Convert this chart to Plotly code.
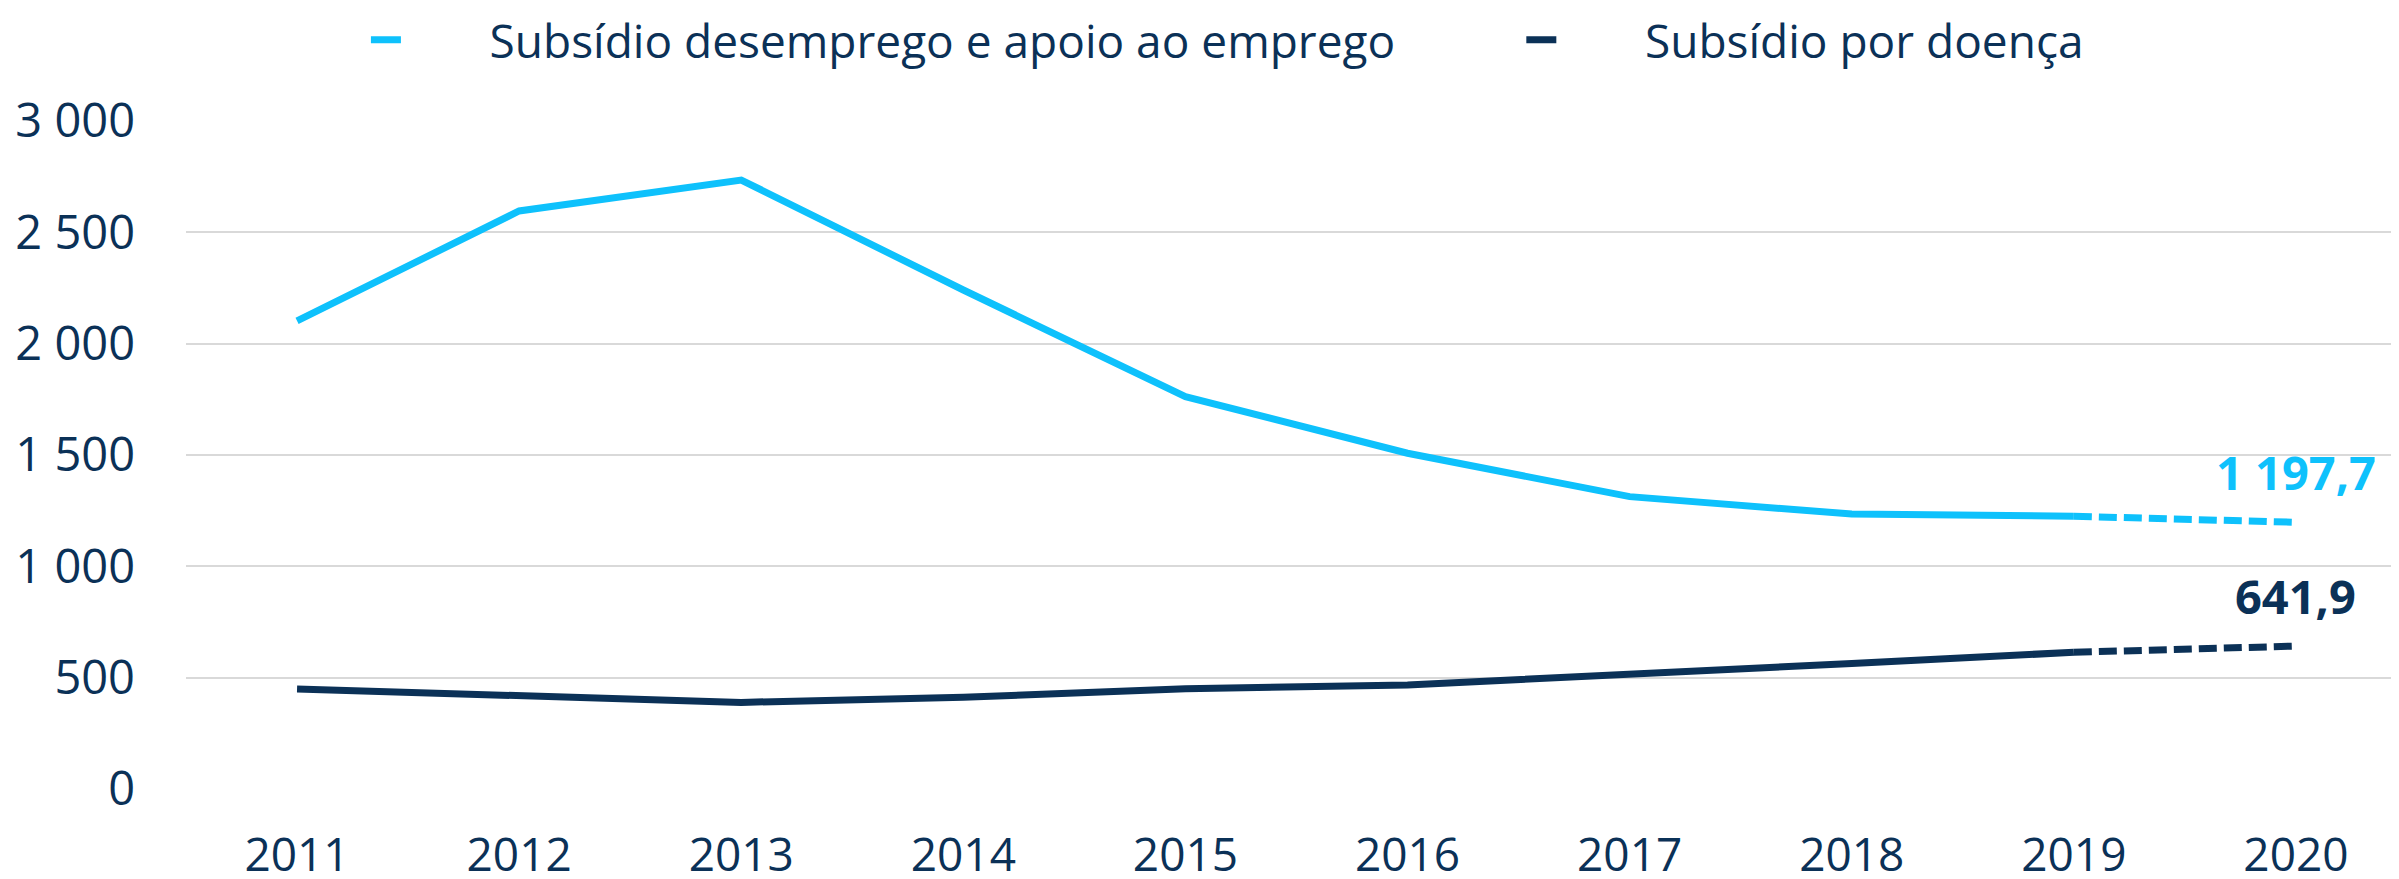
import plotly.graph_objects as go

years = [2011, 2012, 2013, 2014, 2015, 2016, 2017, 2018, 2019, 2020]
desemprego = [2102, 2596, 2735, 2241, 1762, 1508, 1313, 1235, 1225, 1197.7]
doenca = [449, 419, 389, 412, 450, 467, 512, 564, 614, 641.9]
y_ticks = [0, 500, 1000, 1500, 2000, 2500, 3000]

name_a = "Subsídio desemprego e apoio ao emprego"
name_b = "Subsídio por doença"

LIGHT = "#0EC1FC"
DARK = "#0B3157"
FONT = "Open Sans"
PAD = "\u00a0" * 7

def fmt(v):
    return f"{v:,.1f}".replace(",", " ").replace(".", ",")

fig = go.Figure()
fig.add_trace(go.Scatter(x=years[:9], y=desemprego[:9], mode="lines",
                         line=dict(color=LIGHT, width=7),
                         name=PAD + name_a, legend="legend"))
fig.add_trace(go.Scatter(x=years[:9], y=doenca[:9], mode="lines",
                         line=dict(color=DARK, width=7),
                         name=PAD + name_b, legend="legend2"))
fig.add_trace(go.Scatter(x=years[8:], y=desemprego[8:], mode="lines",
                         line=dict(color=LIGHT, width=7, dash="18px,7px"),
                         showlegend=False))
fig.add_trace(go.Scatter(x=years[8:], y=doenca[8:], mode="lines",
                         line=dict(color=DARK, width=7, dash="18px,7px"),
                         showlegend=False))

for series, col in ((desemprego, LIGHT), (doenca, DARK)):
    fig.add_annotation(x=years[-1], y=series[-1], text=f"<b>{fmt(series[-1])}</b>",
                       showarrow=False, yshift=50, yanchor="middle",
                       font=dict(family=FONT, size=47, color=col))

leg_common = dict(orientation="h", xanchor="left", y=1.1213, yanchor="middle",
                  font=dict(family=FONT, size=46, color=DARK),
                  bgcolor="rgba(0,0,0,0)")

fig.update_layout(
    width=2391, height=871,
    margin=dict(l=178, r=0, t=113, b=90, autoexpand=False),
    paper_bgcolor="white", plot_bgcolor="white",
    separators=", ",
    font=dict(family=FONT, size=47, color=DARK),
    legend=dict(x=0.0813, **leg_common),
    legend2=dict(x=0.6034, **leg_common),
    xaxis=dict(range=[2010.5, 2020.464], tickmode="array", tickvals=years,
               ticktext=[str(y) for y in years], showgrid=False, zeroline=False,
               showline=False, ticks="", ticklabelstandoff=35, automargin=False,
               tickfont=dict(family=FONT, size=46, color=DARK)),
    yaxis=dict(range=[0, 3000], tickmode="array", tickvals=y_ticks, tickformat=",d",
               showgrid=True, gridcolor="#D9D9D9", gridwidth=2, zeroline=False,
               showline=False, ticks="", ticklabelstandoff=50, automargin=False,
               tickfont=dict(family=FONT, size=47, color=DARK)),
)

fig.write_html("out.html")
